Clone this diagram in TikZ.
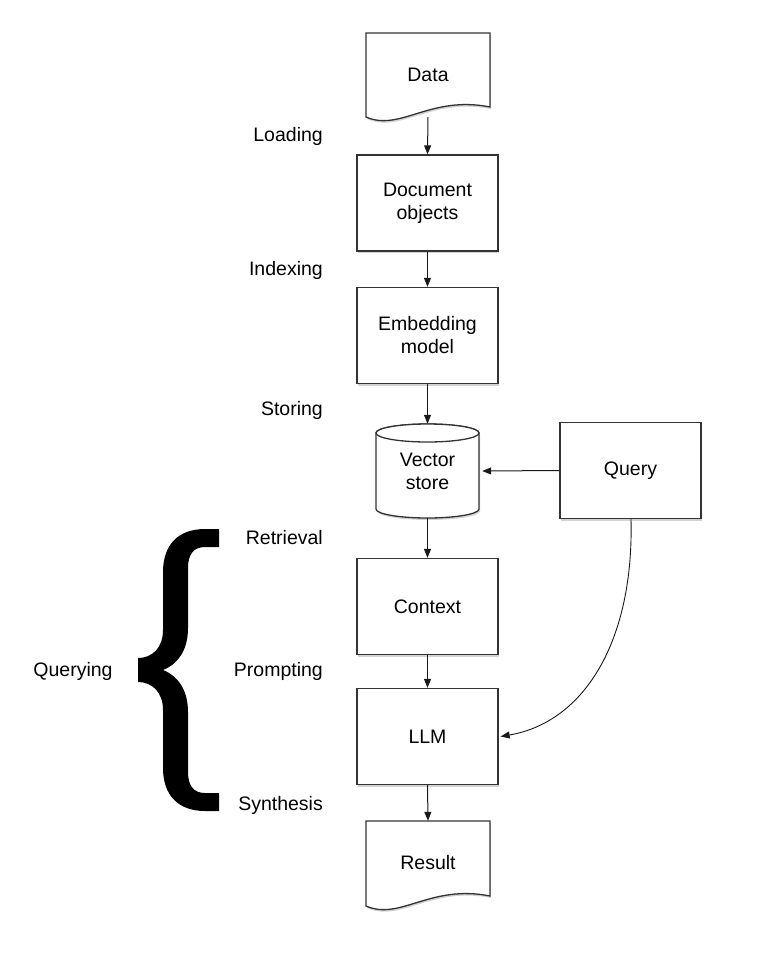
\documentclass[tikz,border=0pt]{standalone}
\usepackage{fontspec}
\setmainfont{Liberation Sans}
\usetikzlibrary{arrows.meta,shadows}
\begin{document}
\begin{tikzpicture}[x=1pt,y=-1pt,
  every node/.style={font=\fontsize{19.5}{23}\selectfont, text=black},
  boxnode/.style={draw=black!80, line width=1.3pt, fill=white, minimum width=141pt, minimum height=96pt, inner sep=0pt, align=center,
    drop shadow={opacity=0.35, shadow xshift=1pt, shadow yshift=-2pt}},
  plain/.style={inner sep=0pt, align=center},
  lbl/.style={anchor=east, inner sep=0pt},
  arr/.style={draw=black!90, line width=1pt, -{Triangle[length=9pt,width=7pt]}},
  outline/.style={draw=black!80, line width=1.3pt, fill=white},
  shade/.style={fill=black!35, opacity=0.5}]
\useasboundingbox (0,0) rectangle (779,954);

% Data document shape
\fill[shade,xshift=1pt,yshift=-2pt] (366,33) -- (490,33) -- (490,107) .. controls (430,95) and (400,132) .. (366,117) -- cycle;
\draw[outline] (366,33) -- (490,33) -- (490,107) .. controls (430,95) and (400,132) .. (366,117) -- cycle;
\node[plain, minimum width=124pt, minimum height=84pt] (data) at (428,75) {Data};
\coordinate (datab) at (428,117);

% Boxes
\node[boxnode] (doc) at (427.5,203) {Document\\objects};
\node[boxnode] (emb) at (427.5,335.5) {Embedding\\model};

% Cylinder
\fill[shade,xshift=1pt,yshift=-2pt] (376,433) -- (376,509) arc[start angle=180,end angle=0,x radius=51.5,y radius=9] -- (479,433) -- cycle;
\draw[outline] (376,433) -- (376,509) arc[start angle=180,end angle=0,x radius=51.5,y radius=9] -- (479,433) arc[start angle=0,end angle=-180,x radius=51.5,y radius=9] -- cycle;
\draw[outline] (427.5,433) ellipse[x radius=51.5,y radius=9];
\node[plain, minimum width=103pt, minimum height=94pt] (vs) at (427.5,471) {Vector\\store};

\node[boxnode] (query) at (630.5,470.5) {Query};
\node[boxnode] (ctx) at (427.5,606.5) {Context};
\node[boxnode] (llm) at (427.5,736.5) {LLM};

% Result document shape
\fill[shade,xshift=1pt,yshift=-2pt] (366,821) -- (490,821) -- (490,896) .. controls (430,884) and (400,921) .. (366,906) -- cycle;
\draw[outline] (366,821) -- (490,821) -- (490,896) .. controls (430,884) and (400,921) .. (366,906) -- cycle;
\node[plain, minimum width=124pt, minimum height=84pt] (res) at (428,863) {Result};

% Connectors
\draw[arr] (datab) -- (doc.north);
\draw[arr] (doc) -- (emb);
\draw[arr] (emb.south) -- (vs.north);
\draw[arr] (query.west) -- ([xshift=3pt]vs.east);
\draw[arr] (vs.south) -- (ctx.north);
\draw[arr] (ctx) -- (llm);
\draw[arr] (llm.south) -- (res.north);
\draw[arr, line width=0.9pt] ([xshift=0.5pt]query.south) .. controls (634,640) and (585,722) .. ([xshift=2pt]llm.east);

% Stage labels
\node[lbl] (l1) at (323,136) {Loading};
\node[lbl] (l2) at (323,270) {Indexing};
\node[lbl] (l3) at (323,410) {Storing};
\node[lbl] (l4) at (323,538) {Retrieval};
\node[lbl] (l5) at (323,671) {Prompting};
\node[lbl] (l6) at (323,805) {Synthesis};
\node[plain] (qlbl) at (73,671) {Querying};

% Brace
\fill[black] (219,529) -- (205,529) .. controls (178,529) and (163,545) .. (163,572) -- (163,630)
  .. controls (163,648) and (152,658) .. (138,658) -- (138,682)
  .. controls (152,682) and (163,692) .. (163,710) -- (163,768)
  .. controls (163,795) and (178,811) .. (205,811) -- (219,811) -- (219,793) -- (205,793)
  .. controls (194,793) and (188,786) .. (188,772) -- (188,712)
  .. controls (188,690) and (178,676) .. (163,670)
  .. controls (178,664) and (188,650) .. (188,628) -- (188,568)
  .. controls (188,554) and (194,547) .. (205,547) -- (219,547) -- cycle;
\end{tikzpicture}
\end{document}
